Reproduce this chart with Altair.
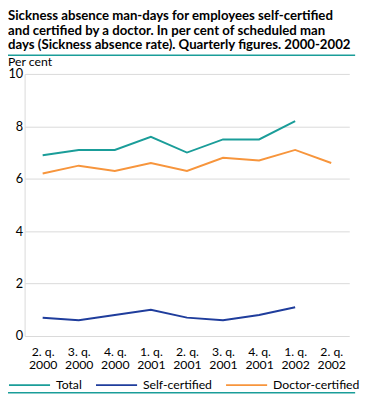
import altair as alt
import pandas as pd

quarters = ["2. q. 2000", "3. q. 2000", "4. q. 2000", "1. q. 2001", "2. q. 2001",
            "3. q. 2001", "4. q. 2001", "1. q. 2002", "2. q. 2002"]
total = [6.9, 7.1, 7.1, 7.6, 7.0, 7.5, 7.5, 8.2, None]
self_certified = [0.7, 0.6, 0.8, 1.0, 0.7, 0.6, 0.8, 1.1, None]
doctor_certified = [6.2, 6.5, 6.3, 6.6, 6.3, 6.8, 6.7, 7.1, 6.6]
series = ["Total", "Self-certified", "Doctor-certified"]
colors = ["#1a9d99", "#1f3d9c", "#f7953c"]
title_lines = ["Sickness absence man-days for employees self-certified",
               "and certified by a doctor. In per cent of scheduled man",
               "days (Sickness absence rate). Quarterly figures. 2000-2002"]

rows = []
for name, vals in zip(series, [total, self_certified, doctor_certified]):
    for q, v in zip(quarters, vals):
        if v is not None:
            rows.append({"quarter": q, "series": name, "value": v})
df = pd.DataFrame(rows)

FONT = "Lato"
GRID = "#d9d9d9"
W, H = 332, 268

lines = alt.Chart(df).mark_line(strokeWidth=2).encode(
    x=alt.X("quarter:N", sort=quarters,
            scale=alt.Scale(domain=quarters, type="point", padding=0.5),
            axis=alt.Axis(title=None, labelAngle=0, ticks=False, domain=False,
                          labelExpr="[substring(datum.label, 0, 5), substring(datum.label, 6)]",
                          labelFontSize=12.5, labelLineHeight=13.5, labelPadding=10,
                          labelColor="#000", gridColor=GRID, labelFont=FONT)),
    y=alt.Y("value:Q", scale=alt.Scale(domain=[0, 10], nice=False),
            axis=alt.Axis(title=None, values=[0, 2, 4, 6, 8, 10], ticks=False,
                          domainColor=GRID, gridColor=GRID, labelFontSize=13,
                          labelPadding=2, labelColor="#000", labelFont=FONT)),
    color=alt.Color("series:N", scale=alt.Scale(domain=series, range=colors),
                    legend=alt.Legend(title=None, orient="none", legendX=-17, legendY=296,
                                      direction="horizontal", symbolType="stroke",
                                      symbolSize=1764, symbolStrokeWidth=2,
                                      labelFontSize=12.5, labelFont=FONT, labelColor="#000",
                                      columnPadding=10, labelOffset=5)),
)

one = pd.DataFrame({"a": [0]})
top_rule = alt.Chart(one).mark_rule(color=colors[0], strokeWidth=1.5).encode(
    x=alt.value(-17), x2=alt.value(338), y=alt.value(-19))
bottom_rule = alt.Chart(one).mark_rule(color=colors[0], strokeWidth=1.5).encode(
    x=alt.value(-17), x2=alt.value(338), y=alt.value(326))

chart = alt.layer(lines, top_rule, bottom_rule).properties(
    width=W, height=H,
    autosize=alt.AutoSizeParams(type="none"),
    padding={"left": 17, "top": 63, "right": 12, "bottom": 60},
    title=alt.TitleParams(text=title_lines, subtitle="Per cent", anchor="start",
                          frame="group", dx=-17, font=FONT, fontSize=13.5,
                          fontWeight="bold", lineHeight=15, color="#000",
                          subtitleFont=FONT, subtitleFontSize=12.5,
                          subtitleColor="#000", subtitlePadding=4, offset=-13.75),
).configure_view(stroke=None)

chart.save("out.html", embed_options={"renderer": "svg", "actions": False})
